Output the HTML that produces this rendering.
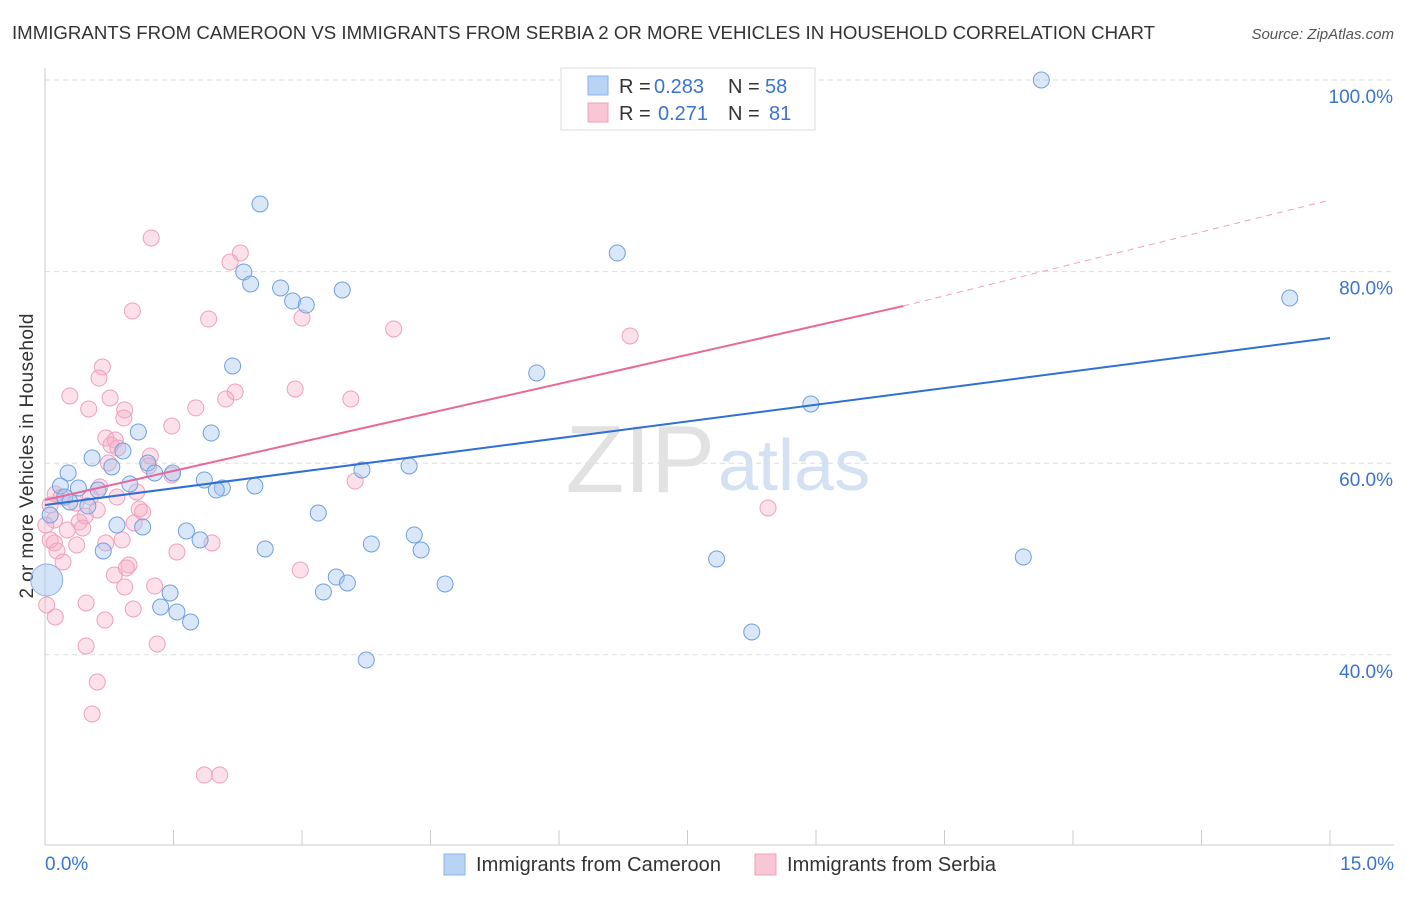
<!DOCTYPE html>
<html><head><meta charset="utf-8">
<style>
body{margin:0;background:#fff;font-family:"Liberation Sans",sans-serif;}
svg text{font-family:"Liberation Sans",sans-serif;}
</style></head>
<body>
<svg id="chart" width="1406" height="892">
<text x="12" y="39" font-size="18" fill="#333" textLength="1143" lengthAdjust="spacingAndGlyphs">IMMIGRANTS FROM CAMEROON VS IMMIGRANTS FROM SERBIA 2 OR MORE VEHICLES IN HOUSEHOLD CORRELATION CHART</text>
<text x="1394" y="39" font-size="15" fill="#555" text-anchor="end" font-style="italic">Source: ZipAtlas.com</text>
<text x="33" y="456" font-size="19" fill="#333" text-anchor="middle" transform="rotate(-90 33 456)" textLength="285">2 or more Vehicles in Household</text>
<g id="grid"></g>
<text x="715" y="492" font-size="96" fill="#e2e2e2" text-anchor="end" font-family="Liberation Serif">ZIP</text>
<text x="718" y="490" font-size="72" fill="#d3e1f3">atlas</text>
<g id="marks"></g>
<g>
<rect x="561" y="68" width="254" height="62" fill="#fff" stroke="#ddd"/>
<rect x="588" y="76" width="20" height="19" fill="#b9d3f5" stroke="#8ab3e8"/>
<rect x="588" y="103" width="20" height="19" fill="#f9c6d5" stroke="#f0a0ba"/>
<text x="619" y="93" font-size="20" fill="#333">R =</text>
<text x="654" y="93" font-size="20" fill="#3a74d0">0.283</text>
<text x="728" y="93" font-size="20" fill="#333">N =</text>
<text x="765" y="93" font-size="20" fill="#3a74d0">58</text>
<text x="619" y="120" font-size="20" fill="#333">R =</text>
<text x="658" y="120" font-size="20" fill="#3a74d0">0.271</text>
<text x="728" y="120" font-size="20" fill="#333">N =</text>
<text x="769" y="120" font-size="20" fill="#3a74d0">81</text>
</g>
<g>
<rect x="444" y="854" width="21" height="21" fill="#b9d3f5" stroke="#8ab3e8"/>
<text x="476" y="871" font-size="20" fill="#333" textLength="245">Immigrants from Cameroon</text>
<rect x="755" y="854" width="21" height="21" fill="#f9c6d5" stroke="#f0a0ba"/>
<text x="787" y="871" font-size="20" fill="#333" textLength="209">Immigrants from Serbia</text>
</g>
<text x="45" y="870" font-size="19" fill="#3a74d0">0.0%</text>
<text x="1394" y="870" font-size="19" fill="#3a74d0" text-anchor="end">15.0%</text>
</svg>
<script>
const yTicks=[40,60,80,100];
const yTickLabels=["40.0%","60.0%","80.0%","100.0%"];
const blueX=[11.63,2.51,6.68,2.32,2.40,2.75,3.47,2.89,3.05,14.53,2.19,5.74,8.94,1.94,1.09,0.91,0.55,1.20,0.78,0.27,1.28,1.49,3.70,4.25,1.86,0.18,0.39,0.99,2.07,2.00,2.45,0.62,0.23,0.29,0.50,0.06,3.19,0.84,1.14,1.65,4.31,1.81,3.81,2.57,4.39,0.68,7.84,11.42,3.40,3.53,4.67,3.25,1.46,1.35,1.54,1.70,8.25,3.75];
const blueY=[100,87.06,81.94,79.96,78.71,78.29,78.08,76.93,76.51,77.24,70.15,69.42,66.18,63.15,63.26,61.27,60.54,60.02,59.61,58.98,58.98,58.98,59.29,59.71,58.25,57.62,57.41,57.83,57.41,57.20,57.62,57.20,56.47,55.95,55.53,54.59,54.80,53.55,53.34,52.92,52.51,51.99,51.57,51.05,50.94,50.84,50.00,50.21,48.12,47.50,47.39,46.56,46.45,44.99,44.47,43.43,42.38,39.46];
const pinkX=[1.24,2.28,2.16,1.02,1.91,3.00,4.07,6.83,0.67,0.63,0.29,0.76,0.51,0.93,1.76,2.92,2.22,2.11,3.57,0.92,1.48,0.71,0.82,0.77,0.85,1.23,1.21,0.74,1.48,3.62,0.12,0.64,0.19,1.07,0.84,0.53,0.36,0.06,0.11,1.10,1.14,0.47,0.61,0.40,0.44,0.26,1.04,0.90,1.95,0.11,0.37,0.71,1.54,0.14,0.21,0.98,0.95,2.98,0.81,1.28,0.93,0.48,1.03,0.12,0.70,0.48,1.31,0.61,0.55,1.86,2.04,8.44,0.01,0.02,0.06];
const pinkY=[83.51,81.94,81.00,75.89,75.05,75.16,74.01,73.28,70.04,68.89,67.02,66.81,65.66,65.56,65.77,67.75,67.43,66.70,66.70,64.72,63.88,62.63,62.42,61.90,61.59,60.75,59.71,60.02,58.77,58.14,56.79,57.52,56.47,57.00,56.47,56.47,55.85,55.64,54.07,55.22,54.91,54.49,55.12,53.86,53.24,53.03,53.76,51.99,51.67,51.67,51.46,51.67,50.73,50.84,49.69,49.38,49.06,48.85,48.33,47.18,47.08,45.41,44.78,43.95,43.63,40.92,41.13,37.16,33.82,27.45,27.45,55.33,53.55,45.20,51.99];
const bigBlue=[0.02,47.81];
const blueTrend=[55.64,73.07];
const pinkTrend=[56.16,76.41,87.47];
const pinkSolidEnd=10.02;

const X=v=>45+v/15*1285;
const Y=v=>80+(100-v)*9.58;
const NS="http://www.w3.org/2000/svg";
const grid=document.getElementById('grid'),marks=document.getElementById('marks');
function mk(tag,attrs,parent){const e=document.createElementNS(NS,tag);for(const k in attrs)e.setAttribute(k,attrs[k]);parent.appendChild(e);return e;}
yTicks.forEach((t,i)=>{
 const l=mk('line',{x1:45,x2:1394,y1:Y(t),y2:Y(t),stroke:'#ddd','stroke-dasharray':'5,4'},grid);
 
 
 const tx=mk('text',{x:1393,y:Y(t)+23,'font-size':19,fill:'#3a74d0','text-anchor':'end'},grid);
 tx.textContent=yTickLabels[i];
 
 
});
const ax=mk('line',{x1:45,x2:45,y1:68,y2:845,stroke:'#ccc'},grid);


const bx=mk('line',{x1:45,x2:1394,y1:845,y2:845,stroke:'#ccc'},grid);


for(let i=0;i<=10;i++){
 const t=mk('line',{x1:X(i*1.5),x2:X(i*1.5),y1:830,y2:845,stroke:'#ccc'},grid);
 
 
}
const bb=mk('circle',{cx:X(bigBlue[0]),cy:Y(bigBlue[1]),r:16,fill:'rgba(160,196,240,0.45)',stroke:'#8ab3e8','stroke-width':1},marks);


pinkX.forEach((x,i)=>{
 const c=mk('circle',{cx:X(x),cy:Y(pinkY[i]),r:8,fill:'rgba(245,170,195,0.35)',stroke:'#f0a0ba','stroke-width':1},marks);
 
 
});
blueX.forEach((x,i)=>{
 const c=mk('circle',{cx:X(x),cy:Y(blueY[i]),r:8,fill:'rgba(160,196,240,0.4)',stroke:'#6fa0e0','stroke-width':1},marks);
 
 
});
const bt=mk('line',{x1:X(0),y1:Y(blueTrend[0]),x2:X(15),y2:Y(blueTrend[1]),stroke:'#2f6fd6','stroke-width':2},marks);


const pt=mk('line',{x1:X(0),y1:Y(pinkTrend[0]),x2:X(pinkSolidEnd),y2:Y(pinkTrend[1]),stroke:'#e8689a','stroke-width':2},marks);


const pd=mk('line',{x1:X(pinkSolidEnd),y1:Y(pinkTrend[1]),x2:X(15),y2:Y(pinkTrend[2]),stroke:'#eea0bc','stroke-width':1,'stroke-dasharray':'6,5'},marks);


</script>
</body></html>
